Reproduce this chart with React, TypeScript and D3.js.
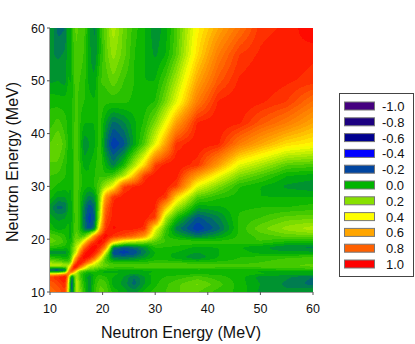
import React, { useMemo } from "react";
import * as d3 from "d3";

const energies = [10, 11.5, 13, 13.4, 14, 14.4, 15, 15.6, 16.5, 17.5, 18.5, 19.5, 20.5, 22, 24, 26, 28, 30, 32, 34, 38, 42, 46, 50, 55, 60];

const r10 = [0.78];
const r11 = [0.8, 0.85];
const r13 = [0.88, 0.93, 1.0];
const r13b = [0.42, 0.48, 0.7, 0.95];
const r14 = [-0.2, -0.22, -0.16, 0.5, 1.0];
const r14b = [-0.1, -0.12, -0.05, 0.3, 0.8, 1.0];
const r15 = [0.33, 0.33, 0.3, 0.25, 0.45, 0.9, 1.0];
const r15b = [0.2, 0.17, 0.12, 0.1, 0.15, 0.6, 0.9, 1.0];
const r16 = [0.06, 0.03, 0.0, 0.02, 0.1, 0.35, 0.65, 0.9, 1.0];
const r17 = [-0.08, -0.07, -0.07, -0.02, 0.03, 0.2, 0.3, 0.7, 0.95, 1.0];
const r18 = [0.07, 0.05, 0.02, 0.0, 0.08, 0.13, 0.3, 0.4, 0.8, 0.95, 1.0];
const r19 = [0.14, 0.12, 0.07, 0.02, 0.0, 0.1, 0.2, 0.22, 0.45, 0.8, 0.92, 1.0];
const r20 = [0.12, 0.1, 0.04, 0.0, -0.02, 0.08, 0.15, 0.1, 0.12, 0.35, 0.75, 0.92, 1.0];
const r22 = [0.03, -0.02, 0.0, 0.02, -0.02, 0.05, 0.13, 0.05, -0.1, -0.2, -0.1, 0.55, 0.9, 0.97];
const r24 = [-0.02, -0.05, -0.04, 0, -0.03, 0.04, 0.13, 0.05, -0.12, -0.23, -0.16, 0.32, 0.85, 0.94, 0.96];
const r26 = [-0.06, -0.14, -0.12, -0.03, -0.04, 0.05, 0.13, 0.05, -0.1, -0.2, -0.13, 0.25, 0.78, 0.94, 0.95, 0.96];
const r28 = [0.02, -0.04, -0.04, 0, -0.02, 0.05, 0.13, 0.05, -0.04, -0.1, -0.06, 0.2, 0.62, 0.91, 0.94, 0.95, 0.96];
const r30 = [0.06, 0.03, 0.02, 0.02, -0.01, 0.05, 0.13, 0.06, 0.02, 0.0, 0.05, 0.12, 0.25, 0.38, 0.88, 0.93, 0.95, 0.96];
const r32 = [0.08, 0.07, 0.04, 0.02, -0.01, 0.05, 0.13, 0.06, 0.02, 0.0, 0.04, 0.08, 0.05, 0.1, 0.25, 0.55, 0.9, 0.95, 0.96];
const r34 = [0.12, 0.11, 0.05, 0.02, -0.01, 0.05, 0.13, 0.06, -0.02, 0, 0.03, 0.08, 0.0, -0.1, 0.03, 0.25, 0.5, 0.88, 0.95, 0.96];
const r38 = [0.12, 0.17, 0.09, 0.03, 0.0, 0.06, 0.13, 0.05, -0.08, -0.04, -0.01, 0.08, -0.1, -0.24, -0.18, -0.03, 0.12, 0.36, 0.62, 0.9, 0.96];
const r42 = [0.06, 0.1, 0.05, 0.03, 0.0, 0.06, 0.11, 0.05, 0.0, 0.0, 0.0, 0.06, -0.03, -0.14, -0.09, -0.01, 0.05, 0.18, 0.38, 0.62, 0.93, 0.96];
const r46 = [0.03, 0.02, 0.02, 0.03, 0.0, 0.06, 0.1, 0.06, 0.04, 0.02, 0.0, 0.07, 0.05, 0.05, 0.05, 0.03, 0.02, 0.04, 0.18, 0.35, 0.72, 0.93, 0.96];
const r50 = [-0.05, -0.04, -0.06, 0.02, -0.02, 0.07, 0.1, 0.08, 0.06, -0.02, -0.03, 0.08, 0.09, 0.15, 0.08, 0.04, 0.0, 0.0, 0.1, 0.25, 0.6, 0.82, 0.93, 0.96];
const r55 = [-0.07, -0.09, -0.07, 0.0, -0.02, 0.08, 0.12, 0.1, 0.08, -0.03, -0.08, 0.03, 0.13, 0.22, 0.14, 0.04, 0, -0.05, 0.0, 0.12, 0.47, 0.72, 0.88, 0.93, 0.96];
const r60 = [-0.03, -0.14, -0.12, 0, -0.02, 0.09, 0.14, 0.1, 0.1, -0.03, -0.1, 0.03, 0.14, 0.27, 0.15, 0.06, 0, -0.07, -0.02, 0.1, 0.42, 0.6, 0.75, 0.9, 0.93, 1.0];

const lowerTriangle = [r10, r11, r13, r13b, r14, r14b, r15, r15b, r16, r17, r18, r19, r20, r22, r24, r26, r28, r30, r32, r34, r38, r42, r46, r50, r55, r60];

const legendValues = [-1, -0.8, -0.6, -0.4, -0.2, 0, 0.2, 0.4, 0.6, 0.8, 1];
const legendColors = ["#45007f", "#1c0080", "#00008f", "#0000ff", "#0045a0", "#00b400", "#88e000", "#ffff00", "#ffa500", "#ff6000", "#ff0000"];
const ticks = [10, 20, 30, 40, 50, 60];

const L = 50, R = 313, T = 28, B = 292;
const FONT = "'Liberation Sans', Arial, sans-serif";

export default function App() {
  const x = d3.scaleLinear().domain([10, 60]).range([L, R]);
  const y = d3.scaleLinear().domain([10, 60]).range([B, T]);
  const color = d3.scaleLinear<string>().domain(legendValues).range(legendColors).interpolate(d3.interpolateRgb);

  const bands = useMemo(() => {
    const n = energies.length;
    const at = (i: number, j: number) => (i >= j ? lowerTriangle[i][j] : lowerTriangle[j][i]);
    const w = (R - L) * 2, h = (B - T) * 2;
    const index = (e: number) => {
      const k = Math.min(n - 2, Math.max(0, d3.bisectRight(energies, e) - 1));
      return [k, (e - energies[k]) / (energies[k + 1] - energies[k])];
    };
    const xs = d3.range(w).map((c) => index(x.invert(L + (c + 0.5) / 2)));
    const ys = d3.range(h).map((r) => index(y.invert(T + (r + 0.5) / 2)));
    const grid = new Float64Array(w * h);
    for (let r = 0; r < h; r++) {
      const [j, v] = ys[r];
      for (let c = 0; c < w; c++) {
        const [i, u] = xs[c];
        grid[r * w + c] =
          (1 - u) * (1 - v) * at(i, j) + u * (1 - v) * at(i + 1, j) + (1 - u) * v * at(i, j + 1) + u * v * at(i + 1, j + 1);
      }
    }
    d3.blur2({ data: grid, width: w, height: h }, 1.5);
    const thresholds = d3.range(-1, 1.0201, 0.04);
    const path = d3.geoPath(d3.geoIdentity().scale(0.5).translate([L, T]) as any);
    return d3
      .contours()
      .size([w, h])
      .smooth(true)
      .thresholds(thresholds)(Array.from(grid))
      .filter((c) => c.coordinates.length > 0)
      .map((c) => ({ d: path(c as any) || "", fill: color(Math.min(1, c.value + 0.02)) }));
  }, []);

  const axisColor = "#555";
  return (
    <svg width={415} height={344} style={{ position: "absolute", left: 0, top: 0, background: "#fff" }} fontFamily={FONT}>
      <rect x={L} y={T} width={R - L} height={B - T} fill={color(0)} />
      <g shapeRendering="crispEdges">
        {bands.map((b, i) => (
          <path key={i} d={b.d} fill={b.fill} />
        ))}
      </g>
      <line x1={L - 0.5} x2={L - 0.5} y1={T} y2={B} stroke={axisColor} strokeWidth={0.6} />
      <line x1={L} x2={R} y1={B + 0.5} y2={B + 0.5} stroke={axisColor} strokeWidth={0.6} />
      {ticks.map((t) => (
        <g key={t}>
          <line x1={x(t)} x2={x(t)} y1={B} y2={B + 3} stroke={axisColor} />
          <text x={x(t)} y={B + 21} textAnchor="middle" fontSize={12.5} fill="#111">{t}</text>
          <line x1={L - 3} x2={L} y1={y(t)} y2={y(t)} stroke={axisColor} />
          <text x={L - 5} y={y(t) + 4.5} textAnchor="end" fontSize={12.5} fill="#111">{t}</text>
        </g>
      ))}
      <text x={181} y={338} textAnchor="middle" fontSize={16} fill="#111">Neutron Energy (MeV)</text>
      <text transform={`translate(18,162) rotate(-90)`} textAnchor="middle" fontSize={16} fill="#111">Neutron Energy (MeV)</text>
      <rect x={339.5} y={93.5} width={74} height={183} fill="#fff" stroke="#444" strokeWidth={1} />
      {legendValues.map((v, i) => {
        const yy = 106 + i * 15.8;
        return (
          <g key={v}>
            <rect x={344.5} y={yy - 4} width={30} height={8} fill={legendColors[i]} stroke="#777" strokeWidth={1} />
            <text x={v < 0 ? 382 : 386} y={yy + 5} fontSize={13} fill="#111">{v.toFixed(1)}</text>
          </g>
        );
      })}
    </svg>
  );
}
